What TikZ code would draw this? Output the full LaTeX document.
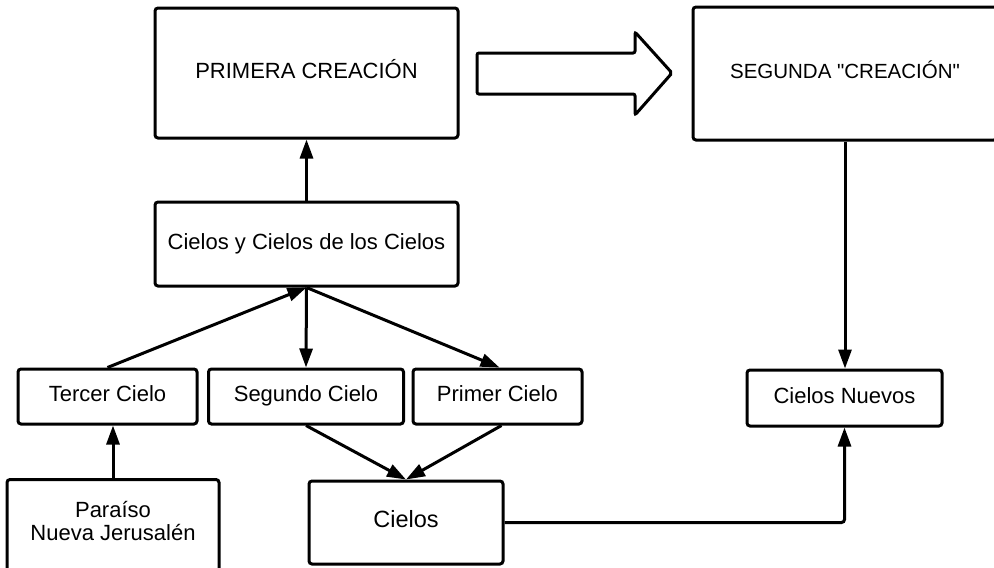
\documentclass[tikz,border=0pt]{standalone}
\usepackage{fontspec}
\setmainfont{Liberation Sans}[Ligatures=TeXOff]
\usetikzlibrary{arrows.meta,positioning}
\tikzset{
  caja/.style={draw, line width=3pt, rounded corners=3pt, align=center, inner sep=0pt,
    text height=15.5pt, text depth=5pt, font=\fontsize{22}{23}\selectfont},
  texto/.style={align=center, inner sep=0pt, font=\fontsize{22}{23}\selectfont},
  flecha/.style={line width=3pt, -{Triangle[length=19pt,width=13pt]}}}

\begin{document}
\begin{tikzpicture}[x=1pt, y=-1pt]
  \useasboundingbox (0,0) rectangle (994,568);
  % top row
  \node[caja, minimum width=303pt, minimum height=130pt] (primera) at (306.5,73) {PRIMERA CREACIÓN};
  \node[caja, minimum width=304pt, minimum height=133pt, font=\fontsize{20.5}{23}\selectfont]
    (segunda) at (845,73.5) {SEGUNDA "CREACIÓN"};
  \draw[line width=3pt, rounded corners=2pt] (477,53) -- (635,53) -- (635,32) -- (672,73)
    -- (635,115) -- (635,94) -- (477,94) -- cycle;
  % middle
  \node[caja, minimum width=303pt, minimum height=84pt] (cielosyc) at (306.5,244) {Cielos y Cielos de los Cielos};
  \node[caja, minimum width=179pt, minimum height=55pt] (tercer) at (107.5,396.5) {Tercer Cielo};
  \node[caja, minimum width=195pt, minimum height=55pt] (segundo) at (306,396.5) {Segundo Cielo};
  \node[caja, minimum width=169pt, minimum height=55pt] (primer) at (497.5,396.5) {Primer Cielo};
  \node[caja, minimum width=195pt, minimum height=56pt] (nuevos) at (844.5,398) {Cielos Nuevos};
  % bottom row
  \node[caja, minimum width=212pt, minimum height=100pt, anchor=north] (paraiso) at (113,478) {};
  \node[texto] (paraisotexto) at (113,521) {Paraíso\\Nueva Jerusalén};
  \node[caja, minimum width=194pt, minimum height=83pt, font=\fontsize{23.5}{26}\selectfont]
    (cielos) at (406,522.5) {Cielos};
  % connectors
  \draw[flecha] (cielosyc) -- (primera);
  \draw[flecha] (tercer.north) -- (cielosyc.south);
  \draw[flecha] (cielosyc.south) -- (segundo.north);
  \draw[flecha] (cielosyc.south) -- ([xshift=2pt]primer.north);
  \draw[flecha] (paraiso.north) -- (paraiso.north |- tercer.south);
  \draw[flecha] (segundo.south) -- (cielos.north);
  \draw[flecha] ([xshift=4pt]primer.south) -- (cielos.north);
  \draw[flecha] (segunda.south) -- (segunda.south |- nuevos.north);
  \draw[flecha, rounded corners=3pt] (cielos.east) -| (nuevos.south);
\end{tikzpicture}
\end{document}
